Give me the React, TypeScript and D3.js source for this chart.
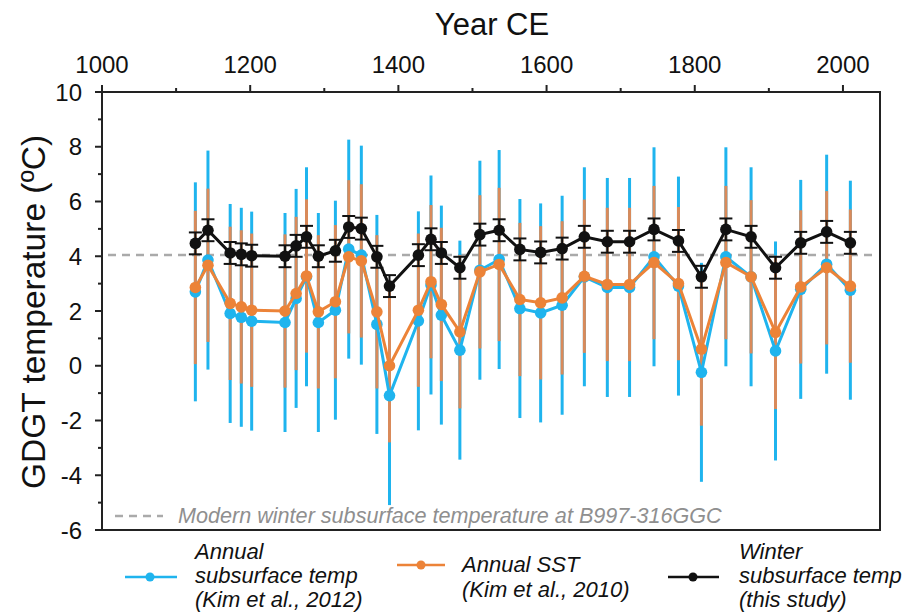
import React from "react";
import * as d3 from "d3";

const years = [1126,1143,1173,1188,1202,1247,1262,1276,1292,1315,1333,1350,1371,1388,1427,1444,1458,1483,1510,1536,1564,1592,1621,1651,1682,1712,1745,1778,1809,1842,1876,1909,1943,1978,2010];
const winterSub = [4.47,4.95,4.12,4.07,4.02,4.0,4.38,4.71,4.0,4.2,5.07,5.01,3.98,2.91,4.04,4.62,4.12,3.58,4.79,4.95,4.25,4.14,4.28,4.71,4.53,4.53,4.98,4.56,3.25,4.98,4.71,3.58,4.49,4.89,4.49];
const annualSST = [2.86,3.67,2.28,2.15,2.03,2.0,2.64,3.28,1.97,2.34,3.98,3.83,1.97,0.0,2.03,3.07,2.24,1.24,3.43,3.70,2.42,2.30,2.48,3.27,2.97,2.97,3.77,3.0,0.61,3.77,3.25,1.22,2.88,3.58,2.91];
const annualSub = [2.7,3.86,1.91,1.77,1.63,1.58,2.46,3.25,1.58,2.03,4.26,4.04,1.51,-1.09,1.64,2.95,1.85,0.57,3.49,3.88,2.09,1.93,2.21,3.25,2.86,2.86,3.98,2.91,-0.24,3.98,3.25,0.54,2.79,3.71,2.76];
const winterErr = 0.4;
const sstErr = 2.8;
const subErr = 4.0;
const modernWinter = 4.05;

const xMajorTicks = [1000, 1200, 1400, 1600, 1800, 2000];
const xMinorTicks = [1100, 1300, 1500, 1700, 1900];
const yMajorTicks = [10, 8, 6, 4, 2, 0, -2, -4, -6];
const yMinorTicks = [9, 7, 5, 3, 1, -1, -3, -5];

const BLUE = "#1fb4ee";
const ORANGE = "#ec8338";
const ORANGE_BAR = "#d98a5a";
const FONT = "'Liberation Sans', Arial, Helvetica, sans-serif";

export default function App() {
  const left = 102, right = 880, top = 92, bottom = 530;
  const x = d3.scaleLinear().domain([1000, 2050]).range([left, right]);
  const y = d3.scaleLinear().domain([-6, 10]).range([bottom, top]);
  const line = d3.line<number>().x((_, i) => x(years[i])).y((d) => y(d));

  const errBars = (vals: number[], err: number, color: string, w: number) =>
    vals.map((v, i) => (
      <line key={i} x1={x(years[i])} x2={x(years[i])} y1={y(v - err)} y2={y(v + err)} stroke={color} strokeWidth={w} />
    ));

  return (
    <div style={{ position: "absolute", left: 0, top: 0 }}>
      <svg width={903} height={616} style={{ display: "block", background: "#fff" }} fontFamily={FONT}>
        {/* modern reference line */}
        <line x1={108} x2={872} y1={y(modernWinter)} y2={y(modernWinter)} stroke="#aaa" strokeWidth={2.5} strokeDasharray="8,6" />

        {/* error bars */}
        <g>{errBars(annualSub, subErr, BLUE, 3)}</g>
        <g>{errBars(annualSST, sstErr, ORANGE_BAR, 3)}</g>

        {/* annual subsurface */}
        <path d={line(annualSub) || ""} fill="none" stroke={BLUE} strokeWidth={3} />
        {annualSub.map((v, i) => (
          <circle key={i} cx={x(years[i])} cy={y(v)} r={5.8} fill={BLUE} />
        ))}
        {/* annual SST */}
        <path d={line(annualSST) || ""} fill="none" stroke={ORANGE} strokeWidth={3} />
        {annualSST.map((v, i) => (
          <circle key={i} cx={x(years[i])} cy={y(v)} r={5.8} fill={ORANGE} />
        ))}
        {/* winter subsurface */}
        {winterSub.map((v, i) => {
          const cx = x(years[i]);
          return (
            <g key={i} stroke="#111" strokeWidth={2}>
              <line x1={cx} x2={cx} y1={y(v - winterErr)} y2={y(v + winterErr)} />
              <line x1={cx - 6.5} x2={cx + 6.5} y1={y(v - winterErr)} y2={y(v - winterErr)} />
              <line x1={cx - 6.5} x2={cx + 6.5} y1={y(v + winterErr)} y2={y(v + winterErr)} />
            </g>
          );
        })}
        <path d={line(winterSub) || ""} fill="none" stroke="#111" strokeWidth={3} />
        {winterSub.map((v, i) => (
          <circle key={i} cx={x(years[i])} cy={y(v)} r={5.8} fill="#111" />
        ))}

        {/* frame */}
        <g stroke="#222" strokeWidth={2} fill="none">
          <line x1={left - 7} x2={right + 1} y1={top} y2={top} />
          <line x1={left} x2={left} y1={top - 7} y2={bottom + 1} />
          <line x1={right} x2={right} y1={top} y2={bottom + 1} />
          <line x1={left - 7} x2={right + 1} y1={bottom} y2={bottom} />
          {xMajorTicks.map((t) => (
            <line key={t} x1={x(t)} x2={x(t)} y1={top} y2={top - 7} />
          ))}
          {xMinorTicks.map((t) => (
            <line key={t} x1={x(t)} x2={x(t)} y1={top} y2={top - 4} />
          ))}
          {yMajorTicks.map((t) => (
            <line key={t} x1={left} x2={left - 7} y1={y(t)} y2={y(t)} />
          ))}
          {yMinorTicks.map((t) => (
            <line key={t} x1={left} x2={left - 4} y1={y(t)} y2={y(t)} />
          ))}
        </g>

        {/* tick labels */}
        {xMajorTicks.map((t) => (
          <text key={t} x={x(t)} y={73} fontSize={24} textAnchor="middle" fill="#111">{t}</text>
        ))}
        {yMajorTicks.map((t) => (
          <text key={t} x={82} y={y(t) + 8.5} fontSize={24} textAnchor="end" fill="#111">{t}</text>
        ))}

        {/* titles */}
        <text x={492} y={35} fontSize={31} textAnchor="middle" fill="#111">Year CE</text>
        <text transform={`translate(45,${312}) rotate(-90)`} fontSize={33.5} textAnchor="middle" fill="#111">
          GDGT temperature (ºC)
        </text>

        {/* in-plot note */}
        <line x1={115} x2={163} y1={516} y2={516} stroke="#aaa" strokeWidth={2.5} strokeDasharray="8,6" />
        <text x={178} y={523} fontSize={21.6} fontStyle="italic" fill="#8f8f8f">
          Modern winter subsurface temperature at B997-316GGC
        </text>

        {/* legend */}
        <g fontSize={22} fontStyle="italic" fill="#111">
          <line x1={125} x2={177} y1={577} y2={577} stroke={BLUE} strokeWidth={2.5} />
          <circle cx={150} cy={577} r={4.5} fill={BLUE} />
          <text x={195} y={559}>Annual</text>
          <text x={195} y={583}>subsurface temp</text>
          <text x={195} y={607}>(Kim et al., 2012)</text>

          <line x1={397} x2={445} y1={565} y2={565} stroke={ORANGE} strokeWidth={2.5} />
          <circle cx={421} cy={565} r={4.5} fill={ORANGE} />
          <text x={462} y={572}>Annual SST</text>
          <text x={462} y={597}>(Kim et al., 2010)</text>

          <line x1={668} x2={719} y1={577} y2={577} stroke="#111" strokeWidth={2.5} />
          <circle cx={693} cy={577} r={4.5} fill="#111" />
          <text x={739} y={559}>Winter</text>
          <text x={739} y={583}>subsurface temp</text>
          <text x={739} y={607}>(this study)</text>
        </g>
      </svg>
    </div>
  );
}
